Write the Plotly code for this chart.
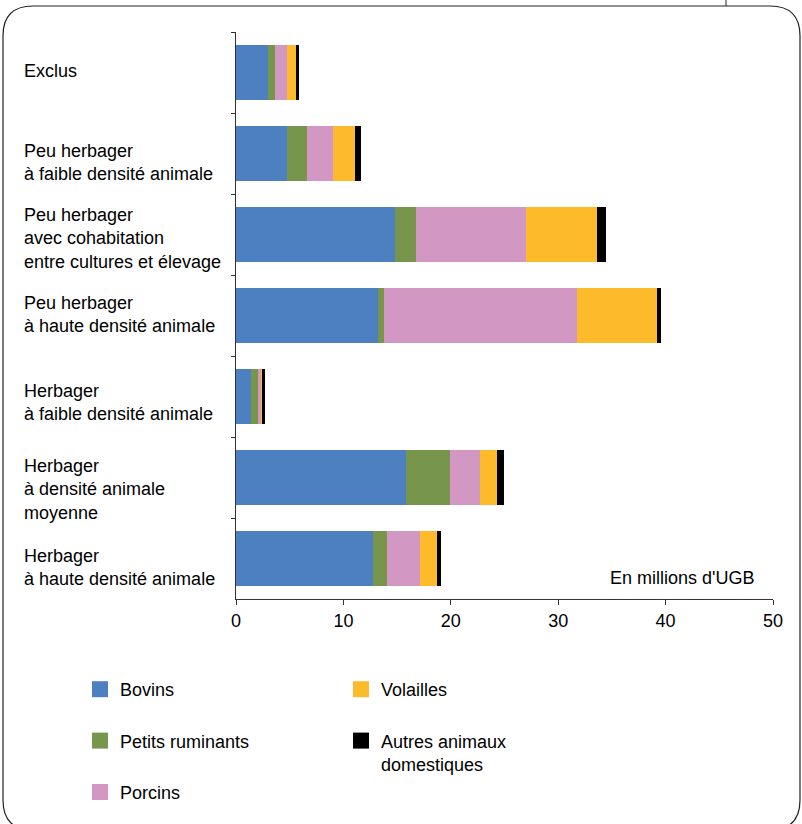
import plotly.graph_objects as go

categories = [
    "Exclus",
    "Peu herbager<br>à faible densité animale",
    "Peu herbager<br>avec cohabitation<br>entre cultures et élevage",
    "Peu herbager<br>à haute densité animale",
    "Herbager<br>à faible densité animale",
    "Herbager<br>à densité animale<br>moyenne",
    "Herbager<br>à haute densité animale",
]
cat_ids = ["c1", "c2", "c3", "c4", "c5", "c6", "c7"]

bovins = [3.0, 4.78, 14.8, 13.19, 1.40, 15.8, 12.76]
petits_ruminants = [0.66, 1.83, 1.96, 0.56, 0.68, 4.13, 1.30]
porcins = [1.09, 2.39, 10.24, 17.97, 0.25, 2.76, 3.07]
volailles = [0.87, 2.08, 6.6, 7.45, 0.12, 1.61, 1.56]
autres = [0.28, 0.59, 0.88, 0.40, 0.22, 0.68, 0.37]

series = [
    ("Bovins", bovins, "#4C80C1", "legend"),
    ("Petits ruminants", petits_ruminants, "#78964B", "legend"),
    ("Porcins", porcins, "#D397C4", "legend"),
    ("Volailles", volailles, "#FDBB2B", "legend2"),
    ("Autres animaux<br>domestiques", autres, "#000000", "legend2"),
]

x_ticks = [0, 10, 20, 30, 40, 50]

# per-label vertical nudges (styling only)
label_yshift = [1.5, -8.5, -3.5, 1.5, -5.5, -11.5, -9]

W, H = 802, 824
L, T = 236, 32
pw, ph = 537, 567
R = W - L - pw
B = H - T - ph

def px(x):
    return (x - L) / pw

def py(y):
    return (T + ph - y) / ph

FONT = "Liberation Sans, Arial, Helvetica, sans-serif"
FS = 18

fig = go.Figure()
for name, vals, color, leg in series:
    fig.add_trace(go.Bar(
        y=cat_ids, x=vals, orientation="h", name=name,
        marker=dict(color=color, line=dict(width=0)),
        showlegend=False,
    ))
for i, (name, vals, color, leg) in enumerate(series):
    fig.add_trace(go.Scatter(
        x=[None], y=[None], mode="markers", name=name,
        marker=dict(symbol="square", size=19, color=color),
        legend=leg, legendgroup="g%d" % i, showlegend=True,
    ))

annotations = []
for cid, label, ys in zip(cat_ids, categories, label_yshift):
    annotations.append(dict(
        x=px(22), xref="paper", y=cid, yref="y",
        text=label, showarrow=False, xanchor="left", yanchor="middle",
        align="left", yshift=ys,
        font=dict(family=FONT, size=FS, color="#000000"),
    ))
annotations.append(dict(
    x=px(756), xref="paper", y=py(578), yref="paper",
    text="En millions d'UGB", showarrow=False, xanchor="right", yanchor="middle",
    font=dict(family=FONT, size=FS, color="#000000"),
))

# rounded frame
x0, x1 = px(3), px(800)
y0, y1 = py(6), py(830)
rx, ry = 30 / pw, 30 / ph
path = (
    f"M {x0+rx},{y0} L {x1-rx},{y0} Q {x1},{y0} {x1},{y0-ry} "
    f"L {x1},{y1+ry} Q {x1},{y1} {x1-rx},{y1} "
    f"L {x0+rx},{y1} Q {x0},{y1} {x0},{y1+ry} "
    f"L {x0},{y0-ry} Q {x0},{y0} {x0+rx},{y0} Z"
)
shapes = [
    dict(type="path", xref="paper", yref="paper", path=path,
         line=dict(color="#222222", width=1.2), layer="below"),
    dict(type="line", xref="paper", yref="paper",
         x0=px(726), x1=px(726), y0=py(-2), y1=py(6),
         line=dict(color="#222222", width=1)),
]

fig.update_layout(
    width=W, height=H,
    margin=dict(l=L, r=R, t=T, b=B, autoexpand=False),
    paper_bgcolor="white", plot_bgcolor="white",
    barmode="stack", bargap=0.33,
    font=dict(family=FONT, size=FS, color="#000000"),
    xaxis=dict(
        range=[0, 50], tickvals=x_ticks, ticks="outside", ticklen=5,
        tickcolor="#333333", showline=True, linecolor="#333333", linewidth=1.2,
        showgrid=False, zeroline=False, fixedrange=True, automargin=False,
        tickfont=dict(family=FONT, size=FS, color="#000000"),
    ),
    yaxis=dict(
        type="category", categoryorder="array", categoryarray=cat_ids,
        autorange="reversed", showticklabels=False, automargin=False,
        ticks="outside", ticklen=4, tickson="boundaries", tickcolor="#333333",
        showline=True, linecolor="#333333", linewidth=1.2, showgrid=False,
    ),
    legend=dict(
        x=px(80), xanchor="left", y=py(671), yanchor="top",
        orientation="v", tracegroupgap=25, bgcolor="rgba(0,0,0,0)",
        font=dict(family=FONT, size=FS, color="#000000"),
    ),
    legend2=dict(
        x=px(341), xanchor="left", y=py(671), yanchor="top",
        orientation="v", tracegroupgap=25, bgcolor="rgba(0,0,0,0)", valign="top",
        font=dict(family=FONT, size=FS, color="#000000"),
    ),
    annotations=annotations,
    shapes=shapes,
)

fig.write_html(
    "out.html",
    config={"displayModeBar": False},
    post_script="document.body.style.margin='0';document.body.style.overflow='hidden';",
)
